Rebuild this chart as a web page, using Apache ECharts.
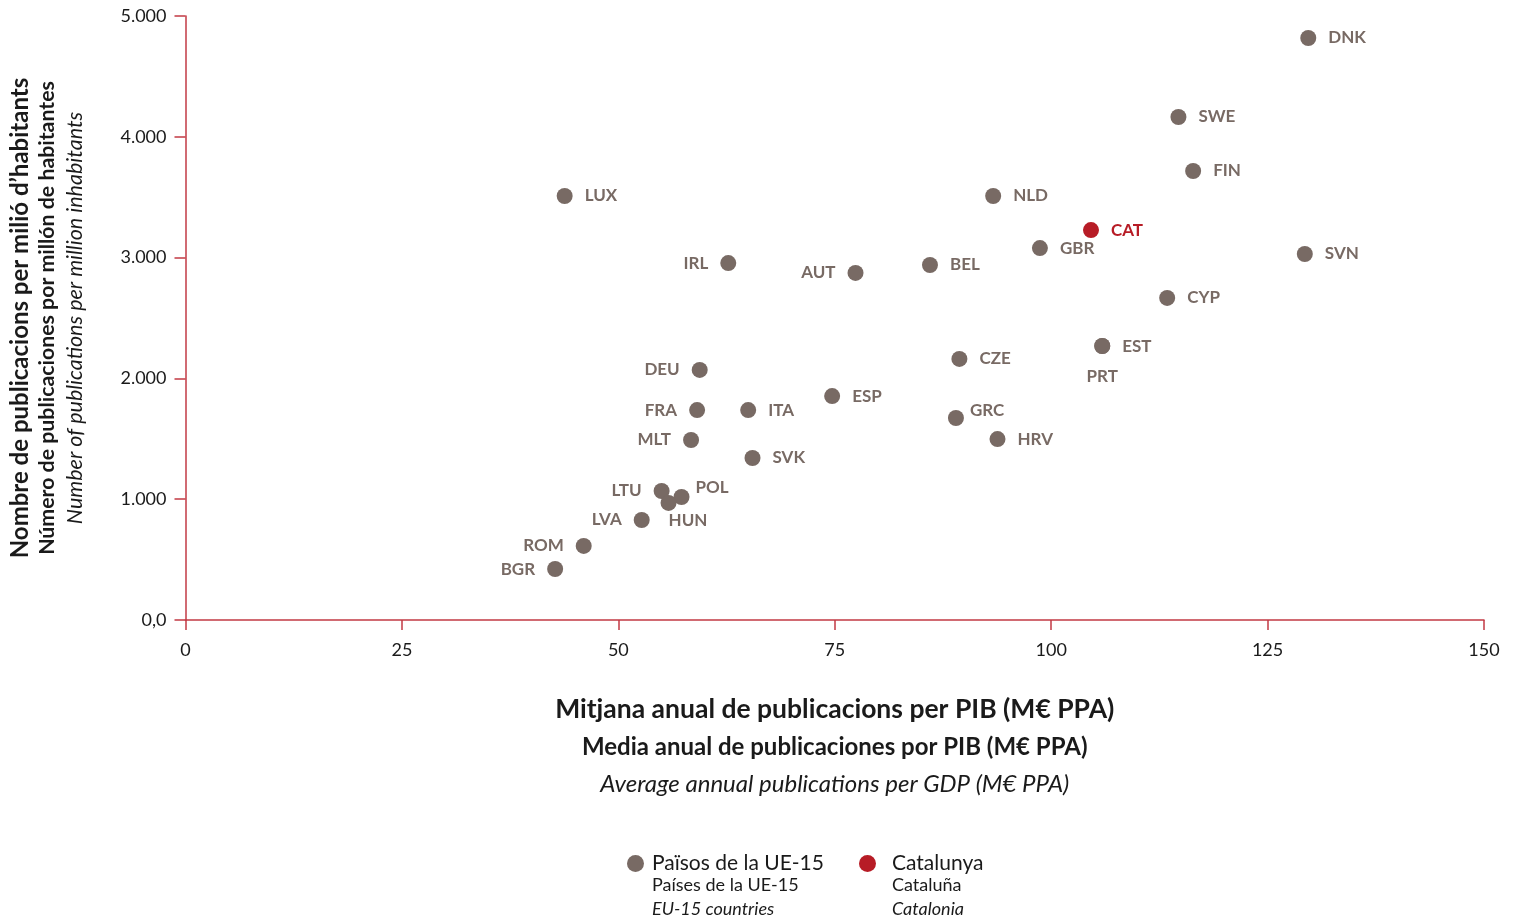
<!DOCTYPE html>
<html>
<head>
<meta charset="utf-8">
<script src="https://cdn.jsdelivr.net/npm/echarts@6/dist/echarts.min.js"></script>
<style>
html, body { margin: 0; padding: 0; background: #fff; }
#chart { width: 1518px; height: 918px; }
</style>
</head>
<body>
<div id="chart"></div>
<script>
// dades: països UE-15 (x = publicacions per PIB, y = publicacions per milió d'habitants)
var countryNames = ['DNK', 'SWE', 'FIN', 'LUX', 'NLD', 'GBR', 'SVN', 'IRL', 'AUT', 'BEL', 'CYP', 'CZE', 'PRT', 'EST',
    'DEU', 'ESP', 'FRA', 'ITA', 'GRC', 'MLT', 'HRV', 'SVK', 'LTU', 'POL', 'HUN', 'LVA', 'ROM', 'BGR'];
var countryX = [129.7, 114.7, 116.4, 43.8, 93.3, 98.7, 129.3, 62.7, 77.4, 86.0, 113.4, 89.4, 105.9, 105.9,
    59.4, 74.7, 59.1, 65.0, 89.0, 58.4, 93.8, 65.5, 55.0, 57.3, 55.8, 52.7, 46.0, 42.7];
var countryY = [4818, 4164, 3717, 3510, 3510, 3079, 3030, 2955, 2873, 2939, 2666, 2161, 2268, 2268,
    2070, 1854, 1738, 1738, 1672, 1490, 1498, 1341, 1068, 1018, 969, 828, 613, 422];
var catName = 'CAT';
var catX = 104.6;
var catY = 3228;

var grey = '#786a64';
var red = '#b71c26';
var axisRed = '#c23a44';

// on va cada etiqueta
var leftLabels = ['IRL', 'AUT', 'DEU', 'FRA', 'MLT', 'LTU', 'LVA', 'ROM', 'BGR'];
var specialLabels = {
    POL: { position: 'right', offset: [-6, -10] },
    HUN: { position: 'right', offset: [-20, 18] },
    GRC: { position: 'right', offset: [-6, -8] },
    PRT: { position: 'bottom', distance: 14 }
};

function fmtThousands(v) {
    if (v === 0) return '0,0';
    return String(v).replace(/\B(?=(\d{3})+(?!\d))/g, '.');
}

var countryData = countryNames.map(function (n, i) {
    var lab = { show: true };
    if (specialLabels[n]) {
        lab = Object.assign({ show: true }, specialLabels[n]);
    } else if (leftLabels.indexOf(n) >= 0) {
        lab.position = 'left';
    }
    return { name: n, value: [countryX[i], countryY[i]], label: lab };
});

var myChart = echarts.init(document.getElementById('chart'));
var font = 'Lato';
var option = {
    animation: false,
    textStyle: { fontFamily: font },
    grid: { left: 185, right: 34, top: 16, bottom: 298 },
    xAxis: {
        type: 'value',
        min: 0,
        max: 150,
        interval: 25,
        axisLine: { lineStyle: { color: axisRed, width: 1.5 } },
        axisTick: { show: true, length: 10, lineStyle: { color: axisRed, width: 1.5 } },
        axisLabel: { color: '#1a1a1a', fontSize: 18, margin: 21, fontFamily: font },
        splitLine: { show: false },
        name: '{a|Mitjana anual de publicacions per PIB (M€ PPA)}\n{b|Media anual de publicaciones por PIB (M€ PPA)}\n{c|Average annual publications per GDP (M€ PPA)}',
        nameLocation: 'middle',
        nameGap: 70,
        nameTextStyle: {
            color: '#1a1a1a',
            fontFamily: font,
            rich: {
                a: { fontSize: 26.5, fontWeight: 'bold', lineHeight: 38, fontFamily: font, color: '#1a1a1a' },
                b: { fontSize: 24, fontWeight: 'bold', lineHeight: 38, fontFamily: font, color: '#1a1a1a' },
                c: { fontSize: 24, fontStyle: 'italic', lineHeight: 36, fontFamily: font, color: '#1a1a1a' }
            }
        }
    },
    yAxis: {
        type: 'value',
        min: 0,
        max: 5000,
        interval: 1000,
        axisLine: { show: true, lineStyle: { color: axisRed, width: 1.5 } },
        axisTick: { show: true, length: 11, lineStyle: { color: axisRed, width: 1.5 } },
        axisLabel: { color: '#1a1a1a', fontSize: 18, margin: 19, fontFamily: font, formatter: fmtThousands },
        splitLine: { show: false },
        name: '{a|Nombre de publicacions per milió d\u2019habitants}\n{b|Número de publicaciones por millón de habitantes}\n{c|Number of publications per million inhabitants}',
        nameLocation: 'middle',
        nameGap: 96,
        nameTextStyle: {
            color: '#1a1a1a',
            fontFamily: font,
            rich: {
                a: { fontSize: 24, fontWeight: 'bold', lineHeight: 27, fontFamily: font, color: '#1a1a1a' },
                b: { fontSize: 21.3, fontWeight: 'bold', lineHeight: 27, fontFamily: font, color: '#1a1a1a' },
                c: { fontSize: 21.5, fontStyle: 'italic', lineHeight: 29, fontFamily: font, color: '#1a1a1a' }
            }
        }
    },
    legend: [{
        data: ['Països de la UE-15'],
        left: 627,
        top: 853,
        padding: 0,
        icon: 'circle',
        itemWidth: 17,
        itemHeight: 17,
        textStyle: { fontSize: 21, color: '#1a1a1a', fontFamily: font, padding: [0, 0, 0, 3] }
    }, {
        data: ['Catalunya'],
        left: 859,
        top: 853,
        padding: 0,
        icon: 'circle',
        itemWidth: 17,
        itemHeight: 17,
        textStyle: { fontSize: 21, color: '#1a1a1a', fontFamily: font, padding: [0, 0, 0, 11] }
    }],
    graphic: [
        { type: 'text', left: 652, top: 876, style: { text: 'Países de la UE-15', font: '18px Lato', fill: '#1a1a1a' } },
        { type: 'text', left: 652, top: 900, style: { text: 'EU-15 countries', font: 'italic 18px Lato', fill: '#1a1a1a' } },
        { type: 'text', left: 892, top: 876, style: { text: 'Cataluña', font: '18px Lato', fill: '#1a1a1a' } },
        { type: 'text', left: 892, top: 900, style: { text: 'Catalonia', font: 'italic 18px Lato', fill: '#1a1a1a' } }
    ],
    series: [{
        name: 'Països de la UE-15',
        type: 'scatter',
        symbolSize: 16,
        itemStyle: { color: grey, opacity: 1 },
        label: {
            show: true,
            position: 'right',
            distance: 12,
            formatter: '{b}',
            color: grey,
            fontSize: 17,
            fontWeight: 'bold',
            fontFamily: font
        },
        data: countryData
    }, {
        name: 'Catalunya',
        type: 'scatter',
        symbolSize: 16,
        itemStyle: { color: red, opacity: 1 },
        label: {
            show: true,
            position: 'right',
            distance: 12,
            formatter: '{b}',
            color: red,
            fontSize: 17,
            fontWeight: 'bold',
            fontFamily: font
        },
        data: [{ name: catName, value: [catX, catY] }]
    }]
};
myChart.setOption(option);
</script>
</body>
</html>
